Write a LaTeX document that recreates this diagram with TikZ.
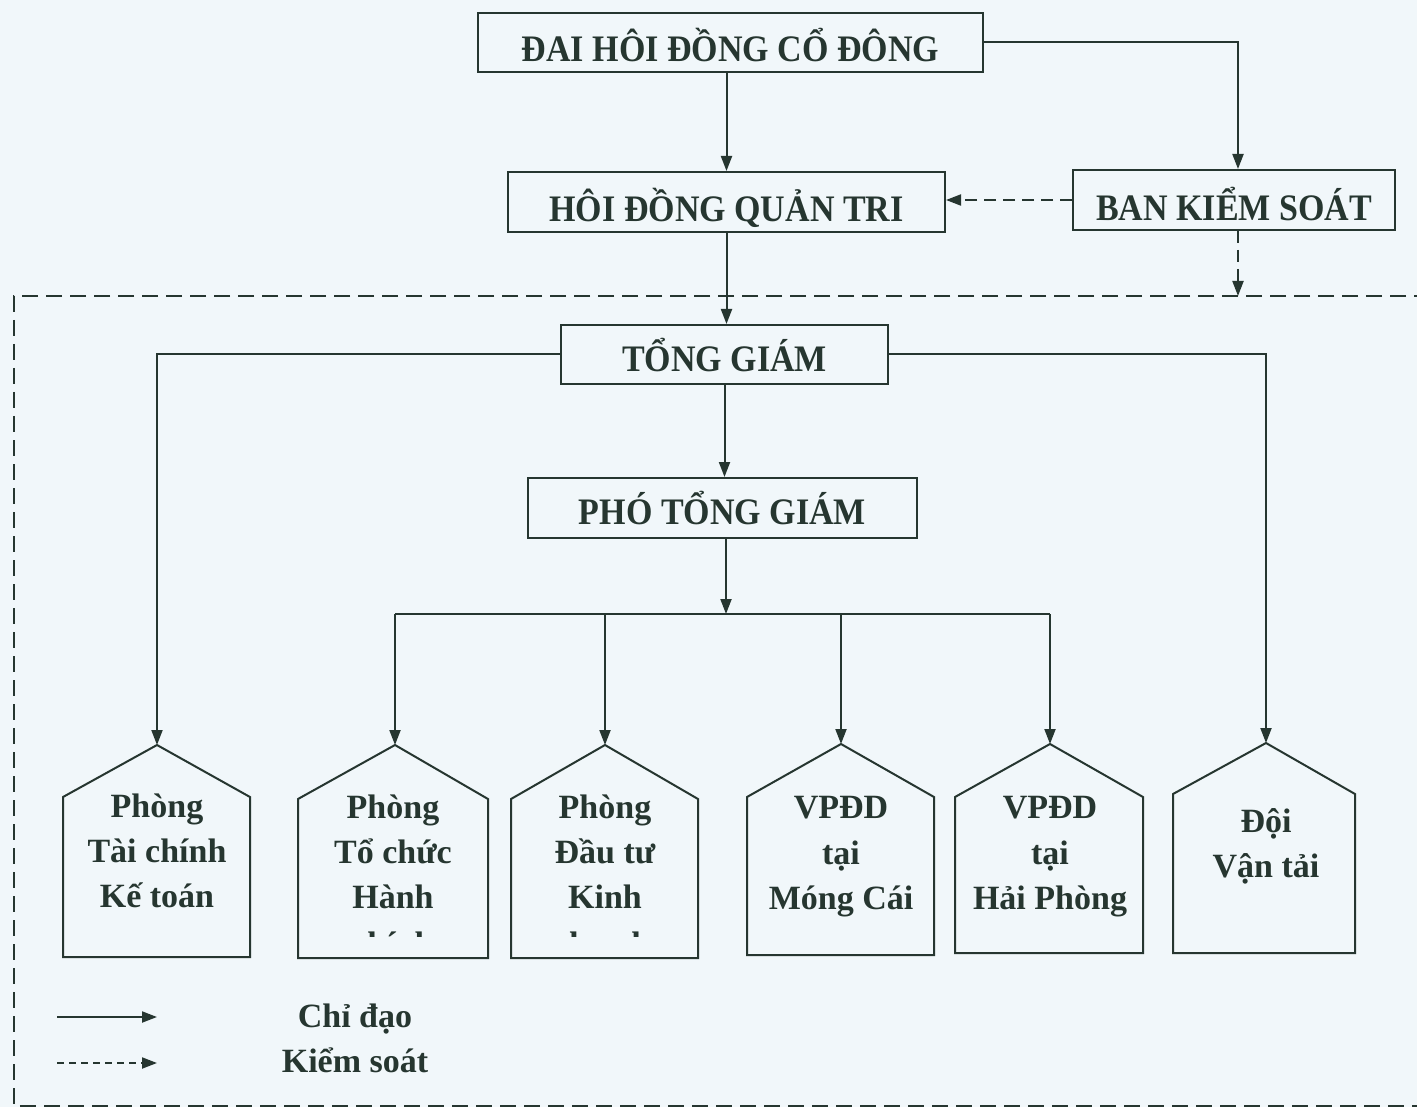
\documentclass[tikz,border=0pt]{standalone}
\usepackage{fontspec}
\setmainfont{Liberation Serif}
\usetikzlibrary{arrows.meta}
\definecolor{ink}{RGB}{38,54,48}
\definecolor{paper}{RGB}{241,247,250}
\newcommand{\tall}[1]{\scalebox{1}[1.1]{#1}}
\begin{document}
\begin{tikzpicture}[x=1pt,y=-1pt,
  txt/.style={text=ink, font=\bfseries\fontsize{34}{45}\selectfont, inner sep=0pt},
  box/.style={txt, draw=ink, line width=2pt, text depth=0pt},
  line/.style={draw=ink, line width=2pt},
  conn/.style={line, -{Triangle[length=15pt,width=11pt]}},
  dconn/.style={conn, dash pattern=on 12pt off 7pt},
  frame/.style={line, dash pattern=on 16pt off 8pt},
  pent/.style={line, line join=miter}]
\useasboundingbox (0,0) rectangle (1417,1107);
\fill[paper] (0,0) rectangle (1417,1107);

% frame
\coordinate (f1) at (1430,296);
\coordinate (f2) at (14,296);
\coordinate (f3) at (14,1106);
\coordinate (f4) at (1430,1106);
\draw[frame] (f1) -- (f2) -- (f3) -- (f4);

% boxes
\node[box, minimum width=505pt, minimum height=59pt, text height=38pt] (dh) at (730.5,42.5) {\tall{ĐAI HÔI ĐỒNG CỔ ĐÔNG}};
\node[box, minimum width=437pt, minimum height=60pt, text height=39pt] (hd) at (726.5,202) {\tall{HÔI ĐỒNG QUẢN TRI}};
\node[box, minimum width=322pt, minimum height=60pt, text height=41pt] (bks) at (1234,200) {\tall{BAN KIỂM SOÁT}};
\node[box, minimum width=327pt, minimum height=59pt, text height=35pt] (tg) at (724.5,354.5) {\tall{TỔNG GIÁM}};
\node[box, minimum width=389pt, minimum height=60pt, text height=33pt] (ptg) at (722.5,508) {\tall{PHÓ TỔNG GIÁM}};

% pentagons
\newcommand{\mypent}[7]{%
  \coordinate (#1) at (#4,#5);
  \draw[pent] (#1) -- (#3,#6) -- (#3,#7) -- (#2,#7) -- (#2,#6) -- cycle;}
\mypent{p1}{63}{250}{157}{745}{797}{957}
\mypent{p2}{298}{488}{395}{745}{799}{958}
\mypent{p3}{511}{698}{605}{745}{799}{958}
\mypent{p4}{747}{934}{841}{744}{797}{955}
\mypent{p5}{955}{1143}{1050}{744}{797}{953}
\mypent{p6}{1173}{1355}{1266}{743}{794}{953}

% connectors
\draw[conn] (dh.south -| hd.north) -- (hd.north);
\draw[conn] (dh.east) -| ([xshift=4pt]bks.north);
\draw[dconn] (bks.west) -- (bks.west -| hd.east);
\draw[dconn] ([xshift=4pt]bks.south) -- ([xshift=4pt]bks.south |- f2);
\draw[conn] (hd.south) -- (hd.south |- tg.north);
\draw[conn] (tg.west) -| (p1);
\draw[conn] (tg.east) -| (p6);
\draw[conn] (tg.south) -- (tg.south |- ptg.north);
\coordinate (bus) at (726,614);
\draw[conn] (ptg.south -| bus) -- (bus);
\draw[line] (p2 |- bus) -- (p5 |- bus);
\draw[conn] (p2 |- bus) -- (p2);
\draw[conn] (p3 |- bus) -- (p3);
\draw[conn] (p4 |- bus) -- (p4);
\draw[conn] (p5 |- bus) -- (p5);

% pentagon texts
\node[txt, anchor=base] (t1a) at (157,817) {Phòng};
\node[txt, anchor=base] (t1b) at (157,862) {Tài chính};
\node[txt, anchor=base] (t1c) at (157,907) {Kế toán};
\node[txt, anchor=base] (t2a) at (393,818) {Phòng};
\node[txt, anchor=base] (t2b) at (393,863) {Tổ chức};
\node[txt, anchor=base] (t2c) at (393,908) {Hành};
\begin{scope}
\clip (300,926) rectangle (486,936);
\node[txt, anchor=base] (t2d) at (393,955) {chính};
\end{scope}
\node[txt, anchor=base] (t3a) at (605,818) {Phòng};
\node[txt, anchor=base] (t3b) at (605,863) {Đầu tư};
\node[txt, anchor=base] (t3c) at (605,908) {Kinh};
\begin{scope}
\clip (513,926) rectangle (696,936);
\node[txt, anchor=base] (t3d) at (605,955) {doanh};
\end{scope}
\node[txt, anchor=base] (t4a) at (841,818) {VPĐD};
\node[txt, anchor=base] (t4b) at (841,864) {tại};
\node[txt, anchor=base] (t4c) at (841,909) {Móng Cái};
\node[txt, anchor=base] (t5a) at (1050,818) {VPĐD};
\node[txt, anchor=base] (t5b) at (1050,864) {tại};
\node[txt, anchor=base] (t5c) at (1050,909) {Hải Phòng};
\node[txt, anchor=base] (t6a) at (1266,832) {Đội};
\node[txt, anchor=base] (t6b) at (1266,877) {Vận tải};

% legend
\coordinate (l1a) at (57,1017);
\coordinate (l1b) at (157,1017);
\coordinate (l2a) at (57,1063);
\coordinate (l2b) at (157,1063);
\draw[conn] (l1a) -- (l1b);
\draw[conn, dash pattern=on 7pt off 5pt] (l2a) -- (l2b);
\node[txt, anchor=base] (lg1) at (355,1027) {Chỉ đạo};
\node[txt, anchor=base] (lg2) at (355,1072) {Kiểm soát};
\end{tikzpicture}
\end{document}
